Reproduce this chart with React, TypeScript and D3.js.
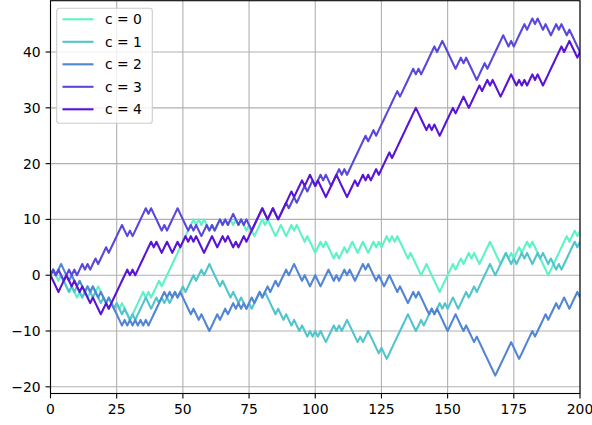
import React from 'react';
import * as d3 from 'd3';

// random walks, one value per step (0..200)
const walk0 = [
  0, 1, 0, -1, 0, -1, -2, -3, -2, -3, -4,
  -3, -4, -3, -4, -3, -2, -3, -2, -3, -4,
  -5, -4, -5, -6, -5, -6, -5, -6, -7, -8,
  -7, -6, -5, -4, -3, -4, -3, -4, -3, -2,
  -1, -2, -1, 0, 1, 2, 3, 4, 5, 6,
  7, 8, 9, 10, 9, 10, 9, 10, 9, 8,
  9, 8, 9, 10, 9, 10, 9, 10, 9, 10,
  9, 10, 9, 8, 9, 8, 7, 8, 9, 10,
  9, 10, 9, 8, 7, 8, 9, 8, 7, 8,
  9, 8, 9, 8, 7, 6, 7, 6, 5, 4,
  5, 6, 5, 6, 5, 4, 3, 4, 3, 4,
  5, 4, 5, 6, 5, 4, 5, 6, 5, 4,
  5, 6, 5, 6, 5, 6, 7, 6, 7, 6,
  7, 6, 5, 4, 3, 4, 3, 2, 1, 0,
  1, 2, 1, 0, -1, -2, -3, -2, -1, 0,
  1, 2, 1, 2, 3, 2, 3, 4, 3, 4,
  3, 2, 3, 4, 5, 6, 5, 4, 3, 2,
  3, 4, 3, 4, 3, 4, 5, 4, 5, 6,
  5, 6, 5, 4, 3, 2, 1, 0, 1, 2,
  3, 4, 5, 6, 7, 6, 7, 8, 7, 8,
];

const walk1 = [
  0, 1, 0, 1, 0, -1, -2, -3, -2, -3, -2,
  -3, -4, -3, -2, -3, -4, -3, -4, -5, -4,
  -5, -6, -5, -6, -5, -6, -7, -6, -7, -8,
  -7, -8, -7, -6, -5, -4, -5, -6, -5, -4,
  -5, -4, -5, -4, -5, -4, -3, -4, -3, -2,
  -3, -2, -1, 0, -1, 0, 1, 0, 1, 2,
  1, 0, -1, -2, -1, -2, -3, -4, -3, -4,
  -5, -4, -5, -6, -5, -6, -5, -4, -3, -4,
  -3, -4, -5, -6, -7, -6, -7, -8, -7, -8,
  -9, -8, -9, -10, -9, -10, -11, -10, -11, -10,
  -11, -10, -11, -12, -11, -10, -9, -10, -9, -10,
  -9, -8, -9, -10, -11, -12, -11, -12, -11, -10,
  -11, -12, -13, -14, -13, -14, -15, -14, -13, -12,
  -11, -10, -9, -8, -7, -8, -9, -10, -9, -8,
  -9, -8, -7, -6, -7, -6, -5, -6, -5, -6,
  -5, -4, -5, -6, -5, -4, -3, -4, -3, -2,
  -3, -2, -1, 0, 1, 2, 1, 0, 1, 2,
  3, 4, 3, 2, 3, 2, 3, 4, 3, 4,
  3, 2, 3, 4, 3, 4, 3, 2, 3, 2,
  1, 2, 1, 2, 3, 4, 5, 6, 5, 6,
];

const walk2 = [
  0, 1, 0, 1, 2, 1, 0, -1, 0, -1, -2,
  -1, -2, -3, -2, -3, -2, -3, -4, -3, -4,
  -5, -4, -5, -6, -7, -8, -9, -8, -9, -8,
  -9, -8, -9, -8, -9, -8, -9, -8, -7, -6,
  -5, -4, -3, -4, -3, -4, -3, -4, -3, -4,
  -5, -6, -7, -6, -7, -8, -7, -8, -9, -10,
  -9, -8, -7, -8, -7, -6, -7, -6, -5, -6,
  -5, -6, -5, -6, -5, -4, -5, -4, -3, -4,
  -3, -2, -3, -2, -1, -2, -1, 0, 1, 0,
  1, 2, 1, 0, -1, 0, -1, -2, -1, 0,
  -1, -2, -1, 0, 1, 0, -1, 0, -1, 0,
  1, 0, 1, 0, -1, 0, 1, 2, 1, 2,
  1, 0, -1, 0, -1, -2, -1, 0, -1, -2,
  -3, -2, -3, -4, -5, -4, -3, -4, -3, -4,
  -5, -6, -7, -6, -7, -6, -7, -8, -9, -10,
  -9, -8, -7, -8, -9, -10, -9, -10, -11, -12,
  -11, -12, -13, -14, -15, -16, -17, -18, -17, -16,
  -15, -14, -13, -12, -13, -14, -15, -14, -13, -12,
  -11, -10, -11, -10, -9, -8, -7, -8, -7, -6,
  -5, -6, -5, -4, -5, -6, -5, -4, -3, -4,
];

const walk3 = [
  0, 1, 0, 1, 0, -1, 0, 1, 0, 1, 0,
  1, 2, 1, 2, 1, 2, 3, 2, 3, 4,
  5, 4, 5, 6, 7, 8, 9, 8, 7, 8,
  7, 8, 9, 10, 11, 12, 11, 12, 11, 10,
  9, 8, 9, 8, 9, 10, 11, 12, 11, 10,
  9, 8, 9, 8, 9, 8, 7, 8, 9, 8,
  9, 8, 9, 10, 9, 10, 9, 10, 11, 10,
  9, 10, 9, 10, 9, 8, 9, 10, 11, 12,
  11, 10, 11, 12, 11, 10, 11, 12, 13, 12,
  13, 14, 13, 14, 15, 16, 15, 16, 17, 16,
  17, 18, 17, 18, 17, 16, 17, 18, 19, 18,
  19, 18, 19, 20, 21, 22, 23, 24, 25, 24,
  25, 26, 25, 26, 27, 28, 29, 30, 31, 32,
  33, 32, 33, 34, 35, 36, 37, 36, 37, 36,
  37, 38, 39, 40, 41, 40, 41, 42, 41, 40,
  39, 38, 37, 38, 39, 38, 39, 38, 37, 36,
  35, 36, 37, 38, 37, 38, 39, 40, 41, 42,
  43, 42, 41, 42, 41, 42, 43, 44, 45, 44,
  45, 46, 45, 46, 45, 44, 45, 44, 43, 44,
  45, 44, 45, 44, 43, 44, 43, 42, 41, 40,
];

const walk4 = [
  0, -1, -2, -3, -2, -1, 0, -1, -2, -1, -2,
  -3, -2, -3, -4, -5, -4, -5, -6, -7, -6,
  -5, -6, -5, -4, -3, -2, -1, 0, 1, 0,
  1, 0, 1, 2, 3, 4, 5, 6, 5, 6,
  5, 4, 5, 6, 5, 4, 5, 6, 5, 6,
  7, 6, 7, 6, 7, 6, 5, 4, 5, 6,
  7, 6, 5, 6, 7, 6, 7, 6, 5, 6,
  5, 6, 7, 6, 7, 8, 9, 10, 11, 12,
  11, 10, 11, 12, 11, 10, 11, 12, 13, 14,
  15, 14, 15, 16, 17, 16, 17, 18, 17, 16,
  17, 16, 15, 14, 15, 16, 17, 18, 17, 16,
  15, 14, 15, 16, 17, 16, 17, 18, 17, 18,
  17, 18, 19, 18, 19, 20, 21, 22, 21, 22,
  23, 24, 25, 26, 27, 28, 29, 30, 29, 28,
  27, 26, 27, 26, 27, 26, 25, 26, 27, 28,
  29, 30, 29, 30, 31, 32, 31, 30, 31, 32,
  33, 34, 33, 34, 35, 34, 35, 34, 33, 32,
  33, 34, 35, 36, 35, 34, 35, 34, 35, 34,
  35, 36, 35, 36, 35, 34, 35, 36, 37, 38,
  39, 40, 41, 40, 41, 42, 41, 40, 39, 40,
];

const seriesNames = ['c = 0', 'c = 1', 'c = 2', 'c = 3', 'c = 4'];
const seriesColors = ['#5ef2c6', '#52c4cc', '#5286d4', '#5848dc', '#5a14d6'];
const xTicks = [0, 25, 50, 75, 100, 125, 150, 175, 200];
const yTicks = [-20, -10, 0, 10, 20, 30, 40];

const W = 592;
const H = 425;
const plot = { left: 50.5, right: 580, top: 0.7, bottom: 393.5 };
const fontSize = 13.9;
const fmt = (v: number) => (v < 0 ? '\u2212' + Math.abs(v) : String(v));

const App: React.FC = () => {
    const walks = [walk0, walk1, walk2, walk3, walk4];

    const x = d3.scaleLinear().domain([0, 200]).range([plot.left, plot.right]);
    const y = d3.scaleLinear().domain([-21.2, 49.2]).range([plot.bottom, plot.top]);

    const line = d3.line<number>()
        .x((_, i) => x(i))
        .y(d => y(d));

    // legend layout
    const lg = { x: 56.7, y: 8.3, w: 95.6, h: 115, rowY: 19.3, rowH: 22.5 };

    return (
        <div style={{ position: 'absolute', left: 0, top: 0 }}>
            <svg width={W} height={H} style={{ display: 'block', background: '#fff' }}
                fontFamily="'DejaVu Sans', sans-serif" fontSize={fontSize}>
                <defs>
                    <clipPath id="plotClip">
                        <rect x={plot.left} y={plot.top} width={plot.right - plot.left} height={plot.bottom - plot.top} />
                    </clipPath>
                </defs>

                {/* grid */}
                <g stroke="#b0b0b0" strokeWidth={1.1}>
                    {xTicks.map(t => (
                        <line key={'gx' + t} x1={x(t)} x2={x(t)} y1={plot.top} y2={plot.bottom} />
                    ))}
                    {yTicks.map(t => (
                        <line key={'gy' + t} x1={plot.left} x2={plot.right} y1={y(t)} y2={y(t)} />
                    ))}
                </g>

                {/* walks */}
                <g clipPath="url(#plotClip)" fill="none" strokeWidth={2.1} strokeLinejoin="round" strokeLinecap="butt">
                    {walks.map((w, i) => (
                        <path key={seriesNames[i]} d={line(w) || ''} stroke={seriesColors[i]} />
                    ))}
                </g>

                {/* spines */}
                <rect x={plot.left} y={plot.top} width={plot.right - plot.left} height={plot.bottom - plot.top}
                    fill="none" stroke="#000" strokeWidth={1.1} />

                {/* x ticks */}
                <g>
                    {xTicks.map(t => (
                        <g key={'xt' + t}>
                            <line x1={x(t)} x2={x(t)} y1={plot.bottom} y2={plot.bottom + 4.9} stroke="#000" strokeWidth={1.1} />
                            <text x={x(t)} y={plot.bottom + 20} textAnchor="middle" fill="#000">{fmt(t)}</text>
                        </g>
                    ))}
                </g>

                {/* y ticks */}
                <g>
                    {yTicks.map(t => (
                        <g key={'yt' + t}>
                            <line x1={plot.left - 4.9} x2={plot.left} y1={y(t)} y2={y(t)} stroke="#000" strokeWidth={1.1} />
                            <text x={plot.left - 9.8} y={y(t) + 5} textAnchor="end" fill="#000">{fmt(t)}</text>
                        </g>
                    ))}
                </g>

                {/* legend */}
                <g>
                    <rect x={lg.x} y={lg.y} width={lg.w} height={lg.h} rx={2.8}
                        fill="#fff" fillOpacity={0.8} stroke="#cccccc" strokeWidth={1.1} />
                    {seriesNames.map((name, i) => {
                        const cy = lg.rowY + i * lg.rowH;
                        return (
                            <g key={'lg' + name}>
                                <line x1={62.5} x2={93.5} y1={cy} y2={cy} stroke={seriesColors[i]} strokeWidth={2.1} />
                                <text x={105} y={cy + 5} fill="#000">{name}</text>
                            </g>
                        );
                    })}
                </g>
            </svg>
        </div>
    );
};

export default App;
